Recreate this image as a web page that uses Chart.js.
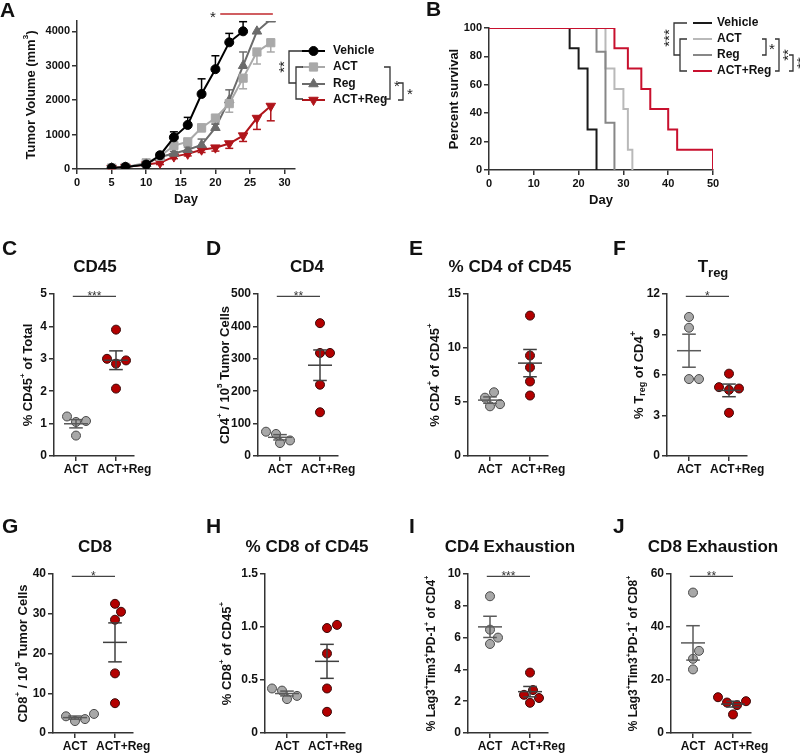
<!DOCTYPE html>
<html>
<head>
<meta charset="utf-8">
<script src="https://cdn.jsdelivr.net/npm/chart.js@4.4.1/dist/chart.umd.min.js"></script>
<style>
  html, body { margin: 0; padding: 0; background: #fff; }
  #page { position: relative; width: 800px; height: 756px; overflow: hidden; }
  #page canvas { position: absolute; }
</style>
</head>
<body>
<div id="page"></div>
<script>
// ---------- A. tumour volume ----------
const days = [5, 7, 10, 12, 14, 16, 18, 20, 22, 24, 26, 28];
const volVehicle = [30, 60, 130, 400, 920, 1280, 2180, 2900, 3680, 4000, null, null];
const semVehicle = [20, 20, 40, 60, 160, 220, 440, 390, 260, 280, null, null];
const volAct = [30, 50, 180, 370, 680, 790, 1200, 1480, 1900, 2640, 3400, 3670];
const semAct = [20, 20, 40, 60, 90, 100, 120, 150, 250, 310, 350, 270];
const volReg = [30, 50, 150, 350, 450, 560, 700, 1200, 2000, 3000, 4000, 4350];
const semReg = [20, 20, 30, 50, 60, 80, 170, 100, 300, 400, null, null];
const volCombo = [30, 60, 130, 180, 360, 440, 560, 620, 740, 970, 1480, 1830];
const semCombo = [20, 20, 40, 50, 60, 60, 80, 100, 140, 170, 330, 430];
const volTicksX = [0, 5, 10, 15, 20, 25, 30];
const volTicksY = [0, 1000, 2000, 3000, 4000];

// ---------- B. survival ----------
const survVehicleDay = [0, 18, 20, 22, 24];
const survVehicle = [100, 85.7, 71.4, 28.6, 0];
const survActDay = [0, 26, 28, 30, 31, 32];
const survAct = [100, 71.4, 57.1, 42.9, 14.3, 0];
const survRegDay = [0, 24, 26, 28];
const survReg = [100, 83.3, 33.3, 0];
const survComboDay = [0, 28, 31, 34, 36, 40, 42, 50];
const survCombo = [100, 85.7, 71.4, 57.1, 42.9, 28.6, 14.3, 0];

// ---------- C-J. flow panels ----------
const groups = ['ACT', 'ACT+Reg'];
const cd45Act = [1.22, 1.08, 1.05, 0.63];
const cd45Combo = [3.9, 3.0, 2.95, 2.85, 2.08];
const cd4Act = [75, 68, 48, 40];
const cd4Combo = [410, 318, 318, 220, 135];
const cd4PctAct = [5.9, 5.4, 4.8, 4.6];
const cd4PctCombo = [13.0, 9.3, 8.2, 6.9, 5.6];
const tregAct = [10.3, 9.5, 5.7, 5.7];
const tregCombo = [6.1, 5.1, 5.0, 4.9, 3.2];
const cd8Act = [4.8, 4.2, 3.5, 3.0];
const cd8Combo = [32.5, 30.5, 28.5, 15, 7.5];
const cd8PctAct = [0.42, 0.40, 0.35, 0.32];
const cd8PctCombo = [1.02, 0.99, 0.75, 0.42, 0.2];
const ex4Act = [8.6, 6.5, 6.0, 5.6];
const ex4Combo = [3.8, 2.7, 2.4, 2.2, 1.9];
const ex8Act = [53, 31, 28, 24];
const ex8Combo = [13.5, 12, 11.5, 10.5, 7];

const FONT = "'Liberation Sans', Arial, Helvetica, sans-serif";
const INK = '#333';
const TEXT = '#111';
const page = document.getElementById('page');

// --- helpers ---
function addCanvas(x0, y0, w, h) {
    const c = document.createElement('canvas');
    c.width = w; c.height = h;
    c.style.left = x0 + 'px'; c.style.top = y0 + 'px';
    c.style.width = w + 'px'; c.style.height = h + 'px';
    page.appendChild(c);
    return c;
}

function parseRich(str) {
    return str.split(/(\^\{[^}]*\}|_\{[^}]*\})/).filter(Boolean).map(p => {
        if (p.startsWith('^{')) return { t: p.slice(2, -1), k: 'sup' };
        if (p.startsWith('_{')) return { t: p.slice(2, -1), k: 'sub' };
        return { t: p, k: '' };
    });
}

// text with ^{sup} / _{sub} parts
function drawRich(ctx, str, x, y, size, opt = {}) {
    const segs = parseRich(str);
    const weight = opt.weight || 'bold';
    const fontOf = s => `${weight} ${s.k ? Math.round(size * (opt.small || 0.62)) : size}px ${FONT}`;
    let total = 0;
    segs.forEach(s => { ctx.font = fontOf(s); s.w = ctx.measureText(s.t).width; total += s.w; });
    ctx.save();
    ctx.translate(x, y);
    if (opt.rotate) ctx.rotate(-Math.PI / 2);
    ctx.fillStyle = opt.color || TEXT;
    ctx.textBaseline = opt.baseline || 'alphabetic';
    ctx.textAlign = 'left';
    let cx = opt.align === 'left' ? 0 : -total / 2;
    segs.forEach(s => {
        ctx.font = fontOf(s);
        const dy = s.k === 'sup' ? -size * 0.42 : s.k === 'sub' ? size * (opt.subDrop || 0.3) : 0;
        ctx.fillText(s.t, cx, dy);
        cx += s.w;
    });
    ctx.restore();
}

function poly(ctx, pts, color, lw) {
    ctx.beginPath();
    pts.forEach((p, i) => i ? ctx.lineTo(p[0], p[1]) : ctx.moveTo(p[0], p[1]));
    ctx.strokeStyle = color; ctx.lineWidth = lw || 1.5;
    ctx.stroke();
}

function stars(ctx, txt, x, y, size, rotate) {
    ctx.save();
    ctx.translate(x, y);
    if (rotate) ctx.rotate(-Math.PI / 2);
    ctx.font = `${size}px ${FONT}`;
    ctx.fillStyle = '#222';
    ctx.textAlign = 'center';
    ctx.textBaseline = 'alphabetic';
    ctx.fillText(txt, 0, size * 0.45);
    ctx.restore();
}

// decor drawn in page coordinates (x0, y0 = canvas origin on the page)
function decor(x0, y0, fn, hook = 'afterDraw') {
    return { id: 'decor_' + hook, [hook](chart) {
        const ctx = chart.ctx;
        ctx.save(); ctx.translate(-x0, -y0);
        fn(ctx, chart);
        ctx.restore();
    } };
}

function axis(extra) {
    return Object.assign({
        type: 'linear',
        grid: { display: true, drawOnChartArea: false, drawTicks: true, tickLength: 5, color: INK, lineWidth: 1.5 },
        border: { display: true, color: INK, width: 1.5 },
    }, extra);
}
const tickFont = size => ({ family: FONT, size: size, weight: 'bold' });
const fixedTicks = list => s => { s.ticks = list.map(v => ({ value: v })); };

function padding(x0, y0, W, H, plot, yW, xH) {
    return { left: plot.l - x0 - yW, top: plot.t - y0, right: x0 + W - plot.r, bottom: y0 + H - plot.b - xH };
}

// ---------- Panel A ----------
(function panelA() {
    const x0 = 0, y0 = 0, W = 420, H = 212;
    const plot = { l: 77, t: 21, r: 295, b: 169 };
    const series = [
        { label: 'Vehicle', vals: volVehicle, sem: semVehicle, dir: 1, color: '#000000', style: 'circle', r: 4.5, rot: 0 },
        { label: 'ACT', vals: volAct, sem: semAct, dir: -1, color: '#a9a9a9', style: 'rect', r: 5.8, rot: 0 },
        { label: 'Reg', vals: volReg, sem: semReg, dir: 1, color: '#6b6b6b', style: 'triangle', r: 5.5, rot: 0 },
        { label: 'ACT+Reg', vals: volCombo, sem: semCombo, dir: -1, color: '#b0151b', style: 'triangle', r: 5.5, rot: 180 },
    ];
    const legendY = [51, 67, 84, 100];

    new Chart(addCanvas(x0, y0, W, H), {
        type: 'line',
        data: {
            datasets: series.map(s => ({
                label: s.label,
                data: days.map((d, i) => ({ x: d, y: s.vals[i] })).filter(p => p.y != null),
                borderColor: s.color, backgroundColor: s.color, borderWidth: 2,
                pointStyle: s.style, pointRadius: s.r, pointRotation: s.rot,
                pointBorderWidth: 1, pointBorderColor: s.color, pointBackgroundColor: s.color,
                tension: 0,
            })),
        },
        options: {
            responsive: false, animation: false,
            layout: { padding: padding(x0, y0, W, H, plot, 40, 22) },
            plugins: { legend: { display: false }, tooltip: { enabled: false } },
            scales: {
                x: axis({ min: 0, max: 31.5,
                    ticks: { color: TEXT, font: tickFont(11), padding: 2, callback: v => String(v) },
                    afterBuildTicks: fixedTicks(volTicksX),
                    afterFit: s => { s.height = 22; } }),
                y: axis({ min: 0, max: 4300,
                    ticks: { color: TEXT, font: tickFont(11), padding: 2, callback: v => String(v) },
                    afterBuildTicks: fixedTicks(volTicksY),
                    afterFit: s => { s.width = 40; } }),
            },
        },
        plugins: [
            // error bars, from the scales
            decor(0, 0, (ctx, chart) => {
                const xs = chart.scales.x, ys = chart.scales.y, ca = chart.chartArea;
                ctx.beginPath();
                ctx.rect(ca.left, ca.top - 2, ca.right - ca.left, ca.bottom - ca.top + 4);
                ctx.clip();
                series.forEach(s => days.forEach((d, i) => {
                    if (s.vals[i] == null || s.sem[i] == null) return;
                    const px = xs.getPixelForValue(d), py = ys.getPixelForValue(s.vals[i]);
                    const pe = ys.getPixelForValue(s.vals[i] + s.dir * s.sem[i]);
                    poly(ctx, [[px, py], [px, pe]], s.color, 1.5);
                    poly(ctx, [[px - 4, pe], [px + 4, pe]], s.color, 1.5);
                }));
            }, 'beforeDatasetsDraw'),
            decor(x0, y0, (ctx, chart) => {
                const xs = chart.scales.x;
                ctx.font = `bold 21px ${FONT}`; ctx.fillStyle = TEXT; ctx.textAlign = 'left'; ctx.textBaseline = 'alphabetic';
                ctx.fillText('A', 0, 17);
                drawRich(ctx, 'Tumor Volume (mm^{3})', 31, (plot.t + plot.b) / 2, 13, { rotate: true, baseline: 'middle' });
                drawRich(ctx, 'Day', (plot.l + plot.r) / 2, 203, 13);
                // significance vs vehicle
                poly(ctx, [[xs.getPixelForValue(20.7), 14], [xs.getPixelForValue(28.3), 14]], '#c0282d', 1.5);
                stars(ctx, '*', 213, 15, 15);
                // legend
                series.forEach((s, i) => {
                    const y = legendY[i];
                    poly(ctx, [[302, y], [325, y]], s.color, 2);
                    ctx.fillStyle = s.color; ctx.strokeStyle = s.color; ctx.lineWidth = 1;
                    Chart.helpers.drawPoint(ctx, { pointStyle: s.style, rotation: s.rot, radius: s.r, borderWidth: 1 }, 313.5, y);
                    ctx.font = `bold 12px ${FONT}`; ctx.fillStyle = TEXT; ctx.textAlign = 'left'; ctx.textBaseline = 'middle';
                    ctx.fillText(s.label, 333, y);
                });
                // brackets
                poly(ctx, [[302, 51], [289, 51], [289, 83], [296, 83]], INK, 1.3);
                poly(ctx, [[303, 67], [296, 67], [296, 99], [303, 99]], INK, 1.3);
                stars(ctx, '**', 282, 67, 15, true);
                poly(ctx, [[384, 67], [390, 67], [390, 99], [384, 99]], INK, 1.3);
                stars(ctx, '*', 397, 84, 15);
                poly(ctx, [[398, 83], [403, 83], [403, 100], [398, 100]], INK, 1.3);
                stars(ctx, '*', 410, 92, 15);
            }),
        ],
    });
})();

// ---------- Panel B ----------
(function panelB() {
    const x0 = 400, y0 = 0, W = 400, H = 212;
    const plot = { l: 489, t: 28, r: 713, b: 170 };
    const series = [
        { label: 'Vehicle', d: survVehicleDay, v: survVehicle, color: '#1a1a1a', order: 3 },
        { label: 'ACT', d: survActDay, v: survAct, color: '#b9b9b9', order: 2 },
        { label: 'Reg', d: survRegDay, v: survReg, color: '#878787', order: 1 },
        { label: 'ACT+Reg', d: survComboDay, v: survCombo, color: '#c8102e', order: 0 },
    ];
    const legendY = [23, 39, 55, 71];

    new Chart(addCanvas(x0, y0, W, H), {
        type: 'line',
        data: {
            datasets: series.map(s => ({
                label: s.label,
                data: s.d.map((d, i) => ({ x: d, y: s.v[i] })),
                borderColor: s.color, borderWidth: 2, pointRadius: 0,
                stepped: 'before', order: s.order,
            })),
        },
        options: {
            responsive: false, animation: false,
            layout: { padding: padding(x0, y0, W, H, plot, 40, 22) },
            plugins: { legend: { display: false }, tooltip: { enabled: false } },
            scales: {
                x: axis({ min: 0, max: 50, ticks: { stepSize: 10, color: TEXT, font: tickFont(11), padding: 2 },
                    afterFit: s => { s.height = 22; } }),
                y: axis({ min: 0, max: 100, ticks: { stepSize: 20, color: TEXT, font: tickFont(11), padding: 2 },
                    afterFit: s => { s.width = 40; } }),
            },
        },
        plugins: [
            decor(x0, y0, ctx => {
                ctx.font = `bold 21px ${FONT}`; ctx.fillStyle = TEXT; ctx.textAlign = 'left'; ctx.textBaseline = 'alphabetic';
                ctx.fillText('B', 426, 16);
                drawRich(ctx, 'Percent survival', 454, (plot.t + plot.b) / 2, 13, { rotate: true, baseline: 'middle' });
                drawRich(ctx, 'Day', (plot.l + plot.r) / 2, 204, 13);
                series.forEach((s, i) => {
                    const y = legendY[i];
                    poly(ctx, [[693, y], [712, y]], s.color, 2);
                    ctx.font = `bold 12px ${FONT}`; ctx.fillStyle = TEXT; ctx.textAlign = 'left'; ctx.textBaseline = 'middle';
                    ctx.fillText(s.label, 717, y);
                });
                poly(ctx, [[687, 23], [674, 23], [674, 55], [680, 55]], INK, 1.3);
                poly(ctx, [[687, 39], [680, 39], [680, 71], [687, 71]], INK, 1.3);
                stars(ctx, '***', 667, 38, 15, true);
                poly(ctx, [[762, 39], [766, 39], [766, 55], [762, 55]], INK, 1.3);
                stars(ctx, '*', 772, 47, 15);
                poly(ctx, [[775, 39], [779, 39], [779, 71], [775, 71]], INK, 1.3);
                stars(ctx, '**', 786, 55, 15, true);
                poly(ctx, [[789, 55], [793, 55], [793, 71], [789, 71]], INK, 1.3);
                stars(ctx, '**', 800, 63, 15, true);
            }),
        ],
    });
})();

// ---------- Panels C-J ----------
const dotPanels = [
    { letter: 'C', title: 'CD45', yTitle: '% CD45^{+} of Total', act: cd45Act, combo: cd45Combo, max: 5, step: 1, sig: '***', col: 0, row: 0, axisX: 54, yTitleX: 28 },
    { letter: 'D', title: 'CD4', yTitle: 'CD4^{+} / 10^{5} Tumor Cells', act: cd4Act, combo: cd4Combo, max: 500, step: 100, sig: '**', col: 1, row: 0, axisX: 258, yTitleX: 225 },
    { letter: 'E', title: '% CD4 of CD45', yTitle: '% CD4^{+} of CD45^{+}', act: cd4PctAct, combo: cd4PctCombo, max: 15, step: 5, sig: '', col: 2, row: 0, axisX: 468, yTitleX: 435 },
    { letter: 'F', title: 'T_{reg}', yTitle: '% T_{reg} of CD4^{+}', act: tregAct, combo: tregCombo, max: 12, step: 3, sig: '*', col: 3, row: 0, axisX: 667, yTitleX: 639 },
    { letter: 'G', title: 'CD8', yTitle: 'CD8^{+} / 10^{5} Tumor Cells', act: cd8Act, combo: cd8Combo, max: 40, step: 10, sig: '*', col: 0, row: 1, axisX: 53, yTitleX: 23 },
    { letter: 'H', title: '% CD8 of CD45', yTitle: '% CD8^{+} of CD45^{+}', act: cd8PctAct, combo: cd8PctCombo, max: 1.5, step: 0.5, sig: '', col: 1, row: 1, axisX: 265, yTitleX: 227, dec: 1 },
    { letter: 'I', title: 'CD4 Exhaustion', yTitle: '% Lag3^{+}Tim3^{+}PD-1^{+} of CD4^{+}', act: ex4Act, combo: ex4Combo, max: 10, step: 2, sig: '***', col: 2, row: 1, axisX: 468, yTitleX: 432 },
    { letter: 'J', title: 'CD8 Exhaustion', yTitle: '% Lag3^{+}Tim3^{+}PD-1^{+} of CD8^{+}', act: ex8Act, combo: ex8Combo, max: 60, step: 20, sig: '**', col: 3, row: 1, axisX: 671, yTitleX: 634 },
];
const ROWS = [
    { y0: 230, h: 252, t: 294, b: 456, letterY: 255, titleY: 272 },
    { y0: 505, h: 251, t: 574, b: 733, letterY: 533, titleY: 552 },
];
const letterX = [2, 206, 409, 613];
const titleX = [95, 307, 510, 713];
const X_MIN = 0.45, X_MAX = 2.45, DOT_R = 4.5;

// simple beeswarm on a 1px grid: nearest free offset (px) on either side
function swarm(vals, pxPerY, r) {
    const order = vals.map((v, i) => i).sort((i, j) => vals[i] - vals[j]);
    const placed = [], off = vals.map(() => 0);
    const minDist = 2 * r * 0.92;
    order.forEach(i => {
        const y = vals[i] * pxPerY;
        const free = dx => placed.every(p => Math.hypot(p.x - dx, p.y - y) >= minDist);
        let dx = 0;
        for (let k = 0; k < 40; k++) {
            if (free(k)) { dx = k; break; }
            if (free(-k)) { dx = -k; break; }
        }
        off[i] = dx; placed.push({ x: dx, y });
    });
    return off;
}

const mean = a => a.reduce((s, v) => s + v, 0) / a.length;
const sem = a => { const m = mean(a); return Math.sqrt(a.reduce((s, v) => s + (v - m) ** 2, 0) / (a.length - 1)) / Math.sqrt(a.length); };

dotPanels.forEach(p => {
    const row = ROWS[p.row];
    const x0 = p.col * 200, y0 = row.y0, W = 200, H = row.h;
    const plot = { l: p.axisX, t: row.t, r: p.axisX + 80, b: row.b };
    const pxPerY = (plot.b - plot.t) / p.max;
    const pxPerX = (plot.r - plot.l) / (X_MAX - X_MIN);
    const sets = [
        { vals: p.act, g: 1, fill: '#a8a8a8', edge: '#4a4a4a', bar: '#5a5a5a' },
        { vals: p.combo, g: 2, fill: '#b30000', edge: '#3a0a0a', bar: '#3f3f3f' },
    ];

    new Chart(addCanvas(x0, y0, W, H), {
        type: 'scatter',
        data: {
            datasets: sets.map(s => {
                const off = swarm(s.vals, pxPerY, DOT_R + 0.8);
                return {
                    data: s.vals.map((v, i) => ({ x: s.g + off[i] / pxPerX, y: v })),
                    pointRadius: DOT_R, pointBackgroundColor: s.fill, pointBorderColor: s.edge, pointBorderWidth: 1,
                };
            }),
        },
        options: {
            responsive: false, animation: false,
            layout: { padding: padding(x0, y0, W, H, plot, 30, 22) },
            plugins: { legend: { display: false }, tooltip: { enabled: false } },
            scales: {
                x: axis({ min: X_MIN, max: X_MAX,
                    ticks: { display: false },
                    afterBuildTicks: fixedTicks([1, 2]),
                    afterFit: s => { s.height = 22; } }),
                y: axis({ min: 0, max: p.max,
                    ticks: { stepSize: p.step, color: TEXT, font: tickFont(12), padding: 2,
                        callback: v => p.dec ? (v === 0 ? '0' : v.toFixed(p.dec)) : String(v) },
                    afterFit: s => { s.width = 30; } }),
            },
        },
        plugins: [
            // mean ± SEM, significance bar and group labels, from the scales
            decor(0, 0, (ctx, chart) => {
                const xs = chart.scales.x, ys = chart.scales.y;
                sets.forEach(s => {
                    const m = mean(s.vals), e = sem(s.vals);
                    const cx = xs.getPixelForValue(s.g);
                    const my = ys.getPixelForValue(m), hi = ys.getPixelForValue(m + e), lo = ys.getPixelForValue(m - e);
                    const mw = 0.3 * pxPerX, cw = 0.17 * pxPerX;
                    poly(ctx, [[cx - mw, my], [cx + mw, my]], s.bar, 1.5);
                    poly(ctx, [[cx, hi], [cx, lo]], s.bar, 1.5);
                    poly(ctx, [[cx - cw, hi], [cx + cw, hi]], s.bar, 1.5);
                    poly(ctx, [[cx - cw, lo], [cx + cw, lo]], s.bar, 1.5);
                });
                if (p.sig) {
                    const y = ys.getPixelForValue(p.max * 0.985);
                    const a = xs.getPixelForValue(0.92), b = xs.getPixelForValue(2.0);
                    poly(ctx, [[a, y], [b, y]], '#444', 1.3);
                    ctx.font = `12px ${FONT}`; ctx.fillStyle = '#333'; ctx.textAlign = 'center'; ctx.textBaseline = 'alphabetic';
                    ctx.fillText(p.sig, (a + b) / 2, y + 4);
                }
                const g1 = xs.getPixelForValue(1), by = ys.getPixelForValue(0) + 8;
                ctx.font = `bold 12px ${FONT}`; ctx.fillStyle = TEXT; ctx.textBaseline = 'top';
                ctx.textAlign = 'center'; ctx.fillText(groups[0], g1, by);
                ctx.textAlign = 'left'; ctx.fillText(groups[1], g1 + 21, by);
            }, 'afterDatasetsDraw'),
            decor(x0, y0, ctx => {
                ctx.font = `bold 21px ${FONT}`; ctx.fillStyle = TEXT; ctx.textAlign = 'left'; ctx.textBaseline = 'alphabetic';
                ctx.fillText(p.letter, letterX[p.col], row.letterY);
                drawRich(ctx, p.title, titleX[p.col], row.titleY, 17, { small: 0.78, subDrop: 0.3 });
                drawRich(ctx, p.yTitle, p.yTitleX, (plot.t + plot.b) / 2, p.row && p.col >= 2 ? 12 : 13,
                    { rotate: true, baseline: 'middle', small: p.yTitle.includes('_{') ? 0.7 : 0.62 });
            }),
        ],
    });
});
</script>
</body>
</html>
